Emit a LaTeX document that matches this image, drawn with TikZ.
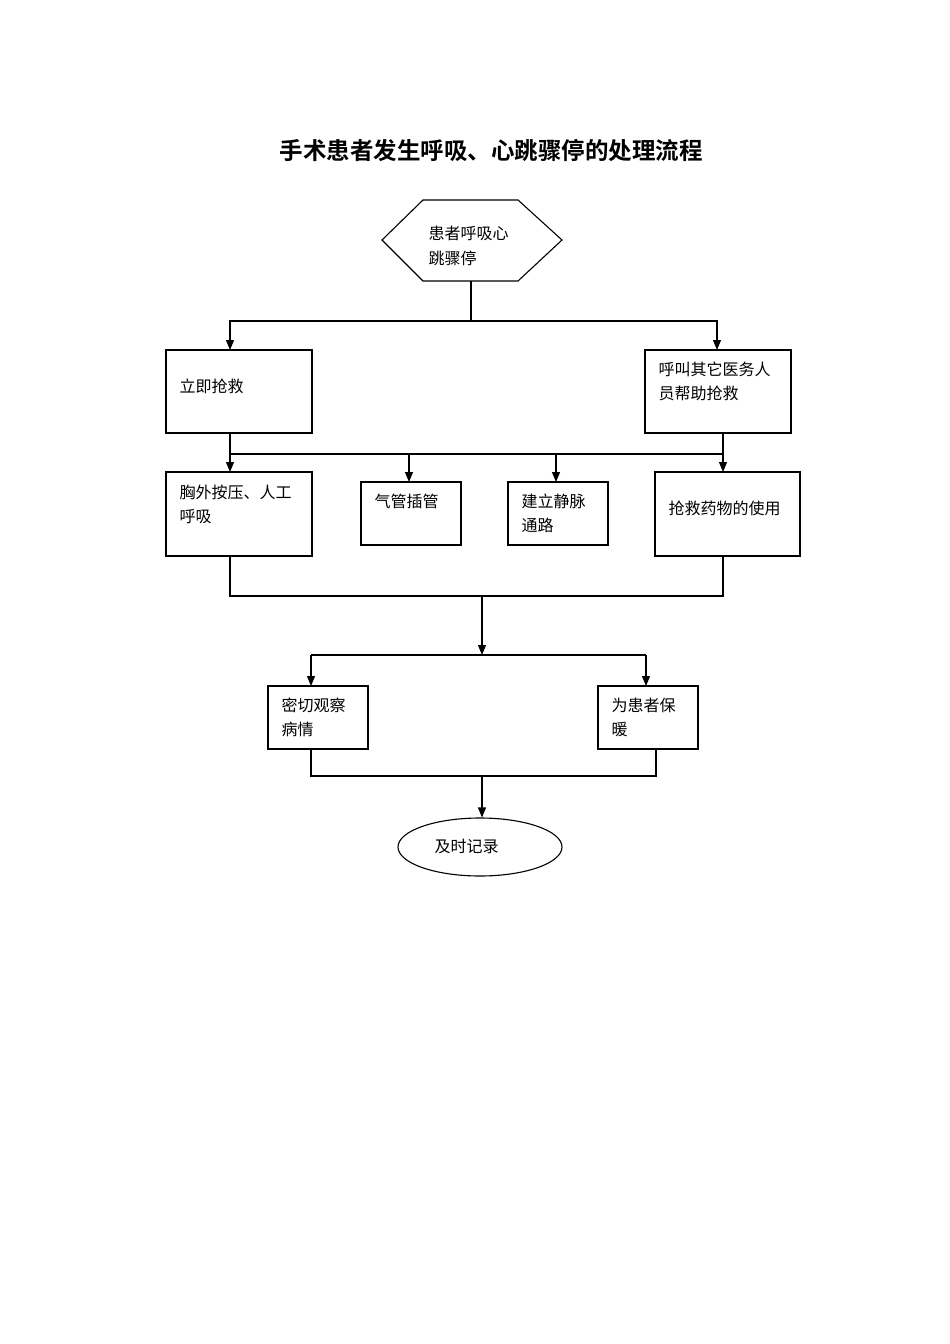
\documentclass[tikz,border=0pt]{standalone}
\usepackage{fontspec}
\setmainfont{Liberation Serif}
\newfontfamily\cjk{Noto Sans CJK SC}
\newfontfamily\cjkb{Noto Sans CJK SC Bold}
\usetikzlibrary{shapes.geometric,arrows.meta}
\begin{document}
\begin{tikzpicture}[x=1pt,y=-1pt,
  line width=1.1pt,
  box/.style={draw,rectangle,inner sep=0pt,line width=1.1pt},
  txt/.style={anchor=west,inner sep=0pt,font=\cjk\fontsize{16}{24.5}\selectfont,align=left},
  arr/.style={-{Triangle[length=10pt,width=8pt]}},
  ln/.style={line width=1.1pt}]
\useasboundingbox (0,0) rectangle (950,1344);
\node[inner sep=0pt,font=\cjkb\fontsize{23.5}{28}\selectfont] (title) at (491,151) {手术患者发生呼吸、心跳骤停的处理流程};

% hexagon
\draw[ln] (382,240) -- (423,200) -- (518,200) -- (562,240) -- (518,281) -- (423,281) -- cycle;
\coordinate (hexb) at (471,281);
\node[txt,anchor=north west] (t0) at (428,226) {患者呼吸心\\跳骤停};

% first level boxes
\node[box,minimum width=146pt,minimum height=83pt] (b1) at (239,391.5) {};
\node[txt] (t1) at (179,386) {立即抢救};
\node[box,minimum width=146pt,minimum height=83pt] (b2) at (718,391.5) {};
\node[txt,anchor=north west] (t2) at (658,361) {呼叫其它医务人\\员帮助抢救};

% second level boxes
\node[box,minimum width=146pt,minimum height=84pt] (c1) at (239,514) {};
\node[txt,anchor=north west] (t3) at (179,484) {胸外按压、人工\\呼吸};
\node[box,minimum width=100pt,minimum height=63pt] (c2) at (411,513.5) {};
\node[txt] (t4) at (374,501) {气管插管};
\node[box,minimum width=100pt,minimum height=63pt] (c3) at (558,513.5) {};
\node[txt,anchor=north west] (t5) at (521,493) {建立静脉\\通路};
\node[box,minimum width=145pt,minimum height=84pt] (c4) at (727.5,514) {};
\node[txt] (t6) at (668,508) {抢救药物的使用};

% third level
\node[box,minimum width=100pt,minimum height=63pt] (d1) at (318,717.5) {};
\node[txt,anchor=north west] (t7) at (281,697) {密切观察\\病情};
\node[box,minimum width=100pt,minimum height=63pt] (d2) at (648,717.5) {};
\node[txt,anchor=north west] (t8) at (611,697) {为患者保\\暖};

% ellipse
\node[draw,ellipse,inner sep=0pt,minimum width=164pt,minimum height=58pt,line width=1.1pt] (e) at (480,847) {};
\node[txt] (t9) at (434,846) {及时记录};

% connectors level 1
\coordinate (j1) at (471,321);
\draw[ln] (hexb) -- (j1);
\draw[arr] (j1) -| (230,350);
\draw[arr] (j1) -| (717,350);

% connectors level 2
\coordinate (j2l) at (230,454);
\coordinate (j2r) at (723,454);
\draw[ln] (230,433) -- (j2l);
\draw[ln] (723,433) -- (j2r);
\draw[ln] (j2l) -- (j2r);
\draw[arr] (j2l) -- (230,472);
\draw[arr] (409,454) -- (409,482);
\draw[arr] (556,454) -- (556,482);
\draw[arr] (j2r) -- (723,472);

% merge
\coordinate (j3) at (482,596);
\draw[ln] (230,556) -- (230,596) -- (723,596) -- (723,556);
\coordinate (j4) at (482,655);
\draw[arr] (j3) -- (j4);
\draw[ln] (311,655) -- (646,655);
\draw[arr] (311,655) -- (311,686);
\draw[arr] (646,655) -- (646,686);

% final merge
\coordinate (j5) at (482,776);
\draw[ln] (311,749) -- (311,776) -- (656,776) -- (656,749);
\draw[arr] (j5) -- (e.north -| j5);
\end{tikzpicture}
\end{document}
